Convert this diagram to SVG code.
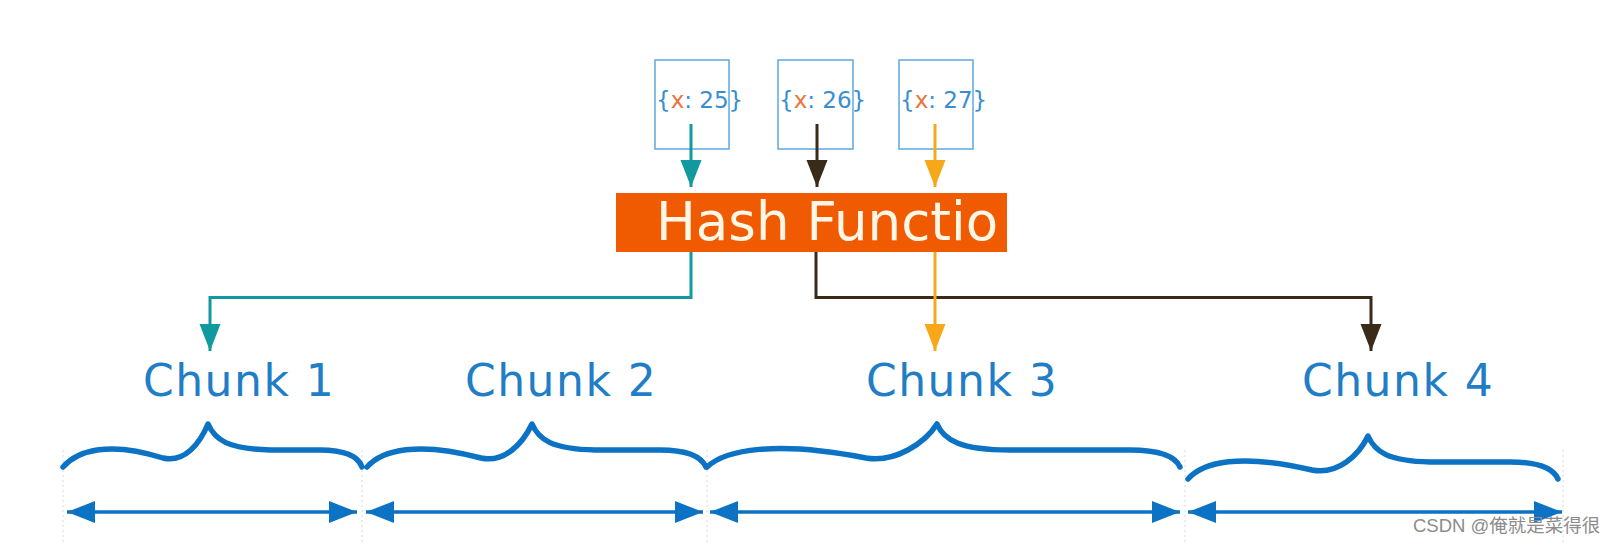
<svg xmlns="http://www.w3.org/2000/svg" width="1620" height="545" viewBox="0 0 1620 545">
<style>
.key{font-family:"DejaVu Sans",sans-serif;font-size:23px;fill:#3a8ed0}
.kx{fill:#e9743c}
.kbox{fill:none;stroke:#5ea8e2;stroke-width:1.5}
.chunk{font-family:"DejaVu Sans",sans-serif;font-size:44px;letter-spacing:1.5px;fill:#1f7ec6}
.brace{fill:none;stroke:#0b72c4;stroke-width:5.5;stroke-linecap:round;stroke-linejoin:round}
.span{fill:none;stroke:#0b72c4;stroke-width:3.5}
.guide{stroke:#cfdce8;stroke-width:1;stroke-dasharray:2 3}
.conn{fill:none;stroke-width:3}
</style>
<defs>
<marker id="aTeal" markerUnits="userSpaceOnUse" markerWidth="28" markerHeight="22" refX="27" refY="10.5" orient="auto"><path d="M0,0 L27,10.5 L0,21 z" fill="#12999f"/></marker>
<marker id="aDark" markerUnits="userSpaceOnUse" markerWidth="28" markerHeight="22" refX="27" refY="10.5" orient="auto"><path d="M0,0 L27,10.5 L0,21 z" fill="#3a2a1a"/></marker>
<marker id="aOrange" markerUnits="userSpaceOnUse" markerWidth="28" markerHeight="22" refX="27" refY="10.5" orient="auto"><path d="M0,0 L27,10.5 L0,21 z" fill="#f7a818"/></marker>
<marker id="aBlue" markerUnits="userSpaceOnUse" markerWidth="30" markerHeight="24" refX="28" refY="11" orient="auto-start-reverse"><path d="M0,0 L28,11 L0,22 z" fill="#0b72c4"/></marker>
</defs>

<g id="guides">
<line class="guide" x1="63" y1="450" x2="63" y2="545"/>
<line class="guide" x1="362" y1="450" x2="362" y2="545"/>
<line class="guide" x1="707" y1="450" x2="707" y2="545"/>
<line class="guide" x1="1185" y1="450" x2="1185" y2="545"/>
<line class="guide" x1="1563" y1="450" x2="1563" y2="545"/>
</g>

<g id="key25">
<text class="key" x="656" y="108">{<tspan class="kx">x</tspan>: 25}</text>
<rect class="kbox" x="655" y="60" width="74" height="89"/>
</g>
<g id="key26">
<text class="key" x="779" y="108">{<tspan class="kx">x</tspan>: 26}</text>
<rect class="kbox" x="778" y="60" width="75" height="89"/>
</g>
<g id="key27">
<text class="key" x="900" y="108">{<tspan class="kx">x</tspan>: 27}</text>
<rect class="kbox" x="899" y="60" width="74" height="89"/>
</g>

<g id="hash">
<rect x="616" y="193" width="391" height="59" fill="#f05a00"/>
<text x="656" y="240" font-family="DejaVu Sans, sans-serif" font-size="53" fill="#fff6e6">Hash Functio</text>
</g>

<g id="connectors">
<line class="conn" stroke="#12999f" x1="691" y1="124" x2="691" y2="187" marker-end="url(#aTeal)"/>
<line class="conn" stroke="#3a2a1a" x1="817" y1="124" x2="817" y2="187" marker-end="url(#aDark)"/>
<line class="conn" stroke="#f7a818" x1="935" y1="124" x2="935" y2="187" marker-end="url(#aOrange)"/>
<path class="conn" stroke="#12999f" d="M691,252 V297.5 H210 V351" marker-end="url(#aTeal)"/>
<path class="conn" stroke="#3a2a1a" d="M816,252 V297.5 H1371 V351" marker-end="url(#aDark)"/>
<path class="conn" stroke="#f7a818" d="M935,252 V351" marker-end="url(#aOrange)"/>
</g>

<g id="chunk1">
<text class="chunk" x="143" y="396">Chunk 1</text>
<path class="brace" d="M63,467 C78,450 110,441 163,458 C185,463 200,443 208,424 C215,440 228,449 270,450 L320,450 C345,450 358,456 362,467"/>
<line class="span" x1="67" y1="512" x2="357" y2="512" marker-start="url(#aBlue)" marker-end="url(#aBlue)"/>
</g>
<g id="chunk2">
<text class="chunk" x="465" y="396">Chunk 2</text>
<path class="brace" d="M367,467 C382,450 418,441 481,458 C505,463 523,443 532,424 C539,440 552,449 595,450 L660,450 C685,450 701,456 706,467"/>
<line class="span" x1="366" y1="512" x2="703" y2="512" marker-start="url(#aBlue)" marker-end="url(#aBlue)"/>
</g>
<g id="chunk3">
<text class="chunk" x="866" y="396">Chunk 3</text>
<path class="brace" d="M707,467 C725,450 775,440 866,458 C895,463 925,443 937,424 C944,440 960,450 1010,450 L1130,450 C1160,450 1175,456 1180,467"/>
<line class="span" x1="710" y1="512" x2="1180" y2="512" marker-start="url(#aBlue)" marker-end="url(#aBlue)"/>
</g>
<g id="chunk4">
<text class="chunk" x="1302" y="396">Chunk 4</text>
<path class="brace" d="M1188,479 C1203,462 1240,453 1312,470 C1338,475 1359,455 1368,436 C1375,452 1388,461 1430,462 L1510,462 C1537,462 1553,468 1558,479"/>
<line class="span" x1="1188" y1="512" x2="1562" y2="512" marker-start="url(#aBlue)" marker-end="url(#aBlue)"/>
</g>

<text x="1413" y="532" font-family="Liberation Sans, Noto Sans CJK SC, sans-serif" font-size="18.5" fill="#8c8c8c">CSDN @俺就是菜得很</text>
</svg>
